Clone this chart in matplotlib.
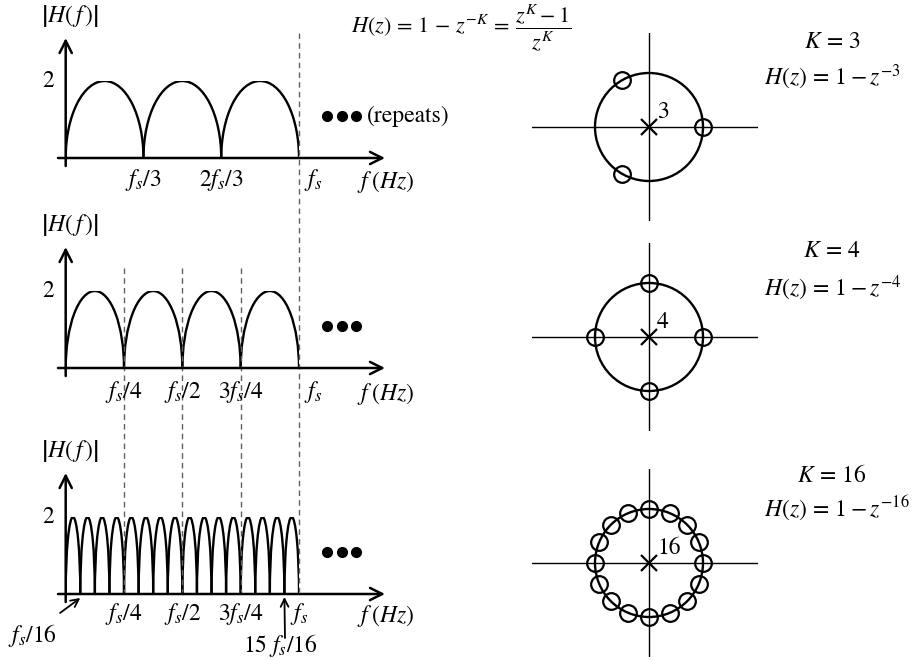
import numpy as np
import matplotlib
matplotlib.use("Agg")
import matplotlib.pyplot as plt
from matplotlib.patches import Arc, Circle
from matplotlib.transforms import blended_transform_factory as blend

plt.rcParams['mathtext.fontset'] = 'stix'
plt.rcParams['font.family'] = ['STIXGeneral', 'DejaVu Serif']

# ---------------- data ----------------
K_values = [3, 4, 16]
peak_gain = 2
gain_label = "2"
tick_pos = [[1/3, 2/3, 1.0],
            [1/4, 1/2, 3/4, 1.0],
            [1/4, 1/2, 3/4, 1.0]]
tick_lab = [[r"$f_s/3$", r"$2f_s/3$", r"$f_s$"],
            [r"$f_s/4$", r"$f_s/2$", r"$3f_s/4$", r"$f_s$"],
            [r"$f_s/4$", r"$f_s/2$", r"$3f_s/4$", r"$f_s$"]]
dashed_full = [1.0]
dashed_quarter = [0.25, 0.5, 0.75]
zero_angles_K3 = [0, 120, 240]
zero_angles_K4 = [0, 90, 180, 270]
zero_angles_K16 = [0, 22.5, 45, 67.5, 90, 112.5, 135, 157.5,
                   180, 202.5, 225, 247.5, 270, 292.5, 315, 337.5]
zero_angles = [zero_angles_K3, zero_angles_K4, zero_angles_K16]
pole_orders = ["3", "4", "16"]
K_labels = [r"$K\,=\,3$", r"$K\,=\,4$", r"$K\,=\,16$"]
H_labels = [r"$H(z)\,=\,1 - z^{-3}$", r"$H(z)\,=\,1 - z^{-4}$",
            r"$H(z)\,=\,1 - z^{-16}$"]
title_formula = r"$H(z)\,=\,1\,-\,z^{-K}\,=\,\dfrac{z^K - 1}{z^K}$"
ylabel = r"$\left|H(\,f\,)\right|$"
xlabel = r"$f\;(Hz)$"

# ---------------- layout ----------------
W, H = 922, 660
FS = 17
fig = plt.figure(figsize=(W / 100, H / 100), dpi=100)
ov = fig.add_axes([0, 0, 1, 1], zorder=5)
ov.axis('off')
ov.patch.set_alpha(0)

X0, X1 = 65.7, 299.0
bases = [158, 368, 594]
peaks = [81, 291, 517]
ytips = [38, 247, 473]
lab_base = [186, 398, 620]

arrow_kw = dict(arrowstyle='->', lw=1.8, color='k', shrinkA=0, shrinkB=0,
                mutation_scale=22)

spec_axes = []
for i, K in enumerate(K_values):
    b, p = bases[i], peaks[i]
    ax = fig.add_axes([X0 / W, 1 - b / H, (X1 - X0) / W, (b - p) / H])
    ax.set_xlim(0, 1)
    ax.set_ylim(0, peak_gain)
    ax.axis('off')
    for k in range(K):
        ax.add_patch(Arc(((k + 0.5) / K, 0), 1 / K, 2 * peak_gain,
                         theta1=0, theta2=180, lw=1.7, color='k'))
    spec_axes.append(ax)
    # axes arrows
    ov.annotate('', xy=(385, b), xytext=(58, b), arrowprops=arrow_kw)
    ov.annotate('', xy=(X0, ytips[i]), xytext=(X0, b + 8), arrowprops=arrow_kw)
    # labels
    ov.text(70, ytips[i] - 22, ylabel, ha='center', va='center', fontsize=FS)
    ov.text(48, p, gain_label, ha='center', va='center', fontsize=FS)
    tr = blend(ax.transData, ov.transData)
    for xp, lab in zip(tick_pos[i], tick_lab[i]):
        dx = 0.06 if (xp == 1.0 and i < 2) else 0.0
        ov.text(xp + dx, lab_base[i], lab, transform=tr, ha='center',
                va='baseline', fontsize=FS)
    ov.text(386, lab_base[i] + 2, xlabel, ha='center', va='baseline', fontsize=FS)
    # ellipsis dots
    dots_y = [116, 326, 552][i]
    ov.plot([327, 341.5, 356], [dots_y] * 3, 'o', ms=7, color='k')

ov.text(367, 116, "(repeats)", ha='left', va='center', fontsize=FS)

# dashed guide lines
trT = blend(spec_axes[0].transData, ov.transData)
for xp in dashed_full:
    ov.plot([xp, xp], [33, 592], transform=trT, color='#606060', lw=1.0,
            dashes=(4, 3))
trM = blend(spec_axes[1].transData, ov.transData)
for xp in dashed_quarter:
    ov.plot([xp, xp], [268, 592], transform=trM, color='#606060', lw=1.0,
            dashes=(4, 3))

# small annotation arrows (bottom panel)
small_kw = dict(arrowstyle='->', lw=1.3, color='k', shrinkA=0, shrinkB=0,
                mutation_scale=14)
trB = blend(spec_axes[2].transData, ov.transData)
ov.annotate('', xy=(1 / 16, 598), xycoords=trB, xytext=(60, 613),
            textcoords='data', arrowprops=small_kw)
ov.text(32, 642, r"$f_s/16$", ha='center', va='baseline', fontsize=FS)
ov.annotate('', xy=(15 / 16, 597), xycoords=trB, xytext=(285, 638),
            textcoords='data', arrowprops=small_kw)
ov.text(280, 652, r"$15\ f_s/16$", ha='center', va='baseline', fontsize=FS)

# title formula
ov.text(461, 28, title_formula, ha='center', va='center', fontsize=FS - 1)

# ---------------- pole-zero plots ----------------
CX, R = 649, 54.0
cys = [127, 337, 563]
K_base = [48, 257, 482]
H_base = [85, 296, 516]
for i, K in enumerate(K_values):
    cy = cys[i]
    ax = fig.add_axes([(CX - 117) / W, 1 - (cy + 94) / H, 226 / W, 188 / H])
    ax.set_xlim(-117 / R, 109 / R)
    ax.set_ylim(-94 / R, 94 / R)
    ax.axis('off')
    ax.axhline(0, color='k', lw=1.0)
    ax.axvline(0, color='k', lw=1.0)
    ax.add_patch(Circle((0, 0), 1, fill=False, lw=1.7, color='k'))
    ang = np.deg2rad(zero_angles[i])
    ax.plot(np.cos(ang), np.sin(ang), 'o', mfc='none', mec='k', ms=12,
            mew=1.6, clip_on=False)
    ax.plot([0], [0], 'x', color='k', ms=12, mew=1.6)
    ax.text(8 / R, 15 / R, pole_orders[i], ha='left', va='center', fontsize=FS)
    ov.text(832, K_base[i], K_labels[i], ha='center', va='baseline', fontsize=FS)
    ov.text(764, H_base[i], H_labels[i], ha='left', va='baseline', fontsize=FS)

ov.set_xlim(0, W)
ov.set_ylim(H, 0)
fig.savefig("out.png", dpi=100)
